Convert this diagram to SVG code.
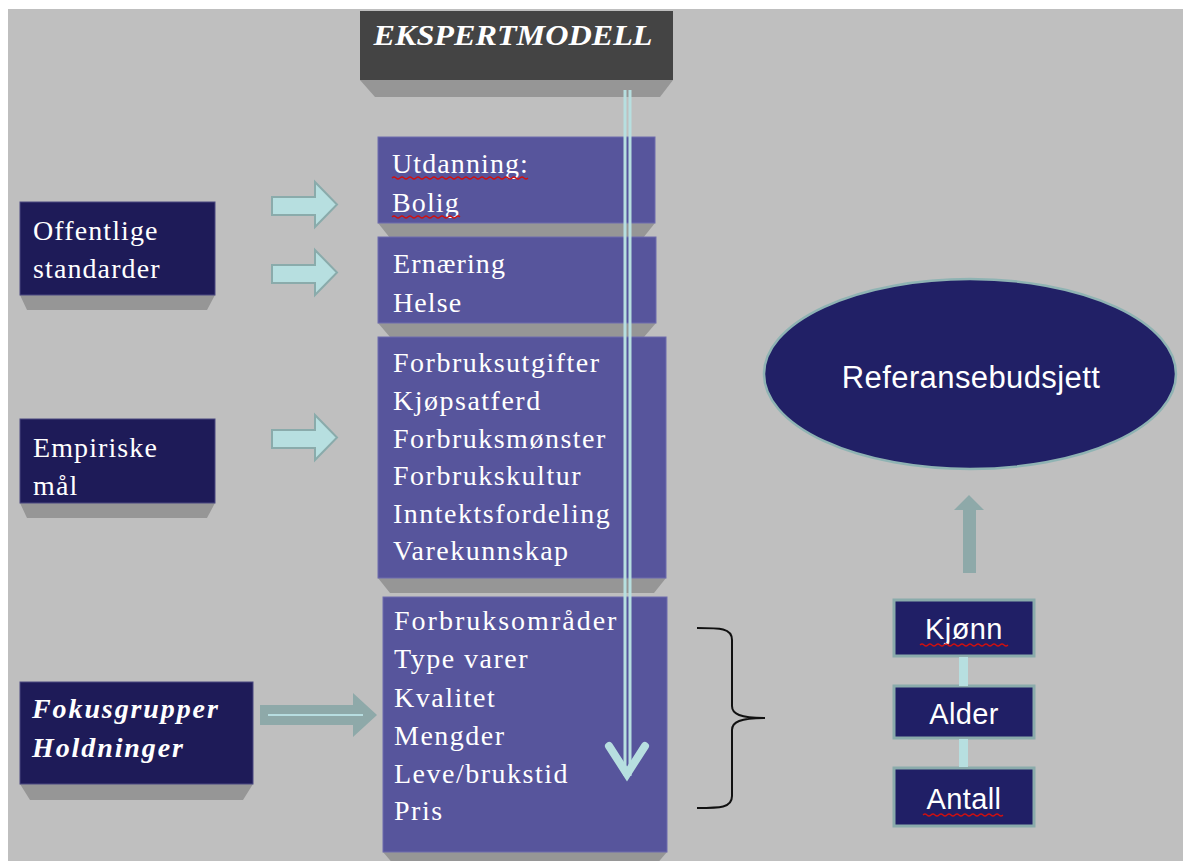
<svg xmlns="http://www.w3.org/2000/svg" width="1183" height="861" viewBox="0 0 1183 861">
<defs>
<style>
.bg{fill:#bfbfbf}
.shadow{fill:#969696}
.mid{fill:#57559c;stroke:#6e6cae;stroke-width:1}
.dark{fill:#1e1b58;stroke:#4a4880;stroke-width:1}
.small{fill:#201f66;stroke:#8aabab;stroke-width:3}
.serif{font-family:"Liberation Serif","Times New Roman",serif;font-size:28px;fill:#ffffff;letter-spacing:1.1px}
.wide{letter-spacing:1.5px}
.bi{font-family:"Liberation Serif","Times New Roman",serif;font-size:28px;font-weight:bold;font-style:italic;fill:#ffffff;letter-spacing:1.9px}
.sans{font-family:"Liberation Sans",Arial,sans-serif;font-size:29px;fill:#ffffff;text-anchor:middle;letter-spacing:0.4px}
.blk{fill:#b7dfe0;stroke:#8aabab;stroke-width:2}
.sq{fill:none;stroke:#d01010;stroke-width:1.2}
</style>
</defs>
<rect x="0" y="0" width="1183" height="861" fill="#ffffff"/>
<rect class="bg" x="8" y="9" width="1175" height="852"/>

<g id="ekspertmodell">
<polygon class="shadow" points="360,80 673,80 660,97 375,97"/>
<rect x="360" y="11" width="313" height="69" fill="#444444"/>
<text class="bi" x="513" y="45" text-anchor="middle" style="font-size:30px;letter-spacing:0" textLength="279" lengthAdjust="spacingAndGlyphs">EKSPERTMODELL</text>
</g>

<g id="box-utdanning">
<polygon class="shadow" points="378,223 655,223 643,238 390,238"/>
<rect class="mid" x="378" y="137" width="277" height="86"/>
<text class="serif" x="392" y="173">Utdanning:</text>
<text class="serif" x="392" y="212">Bolig</text>
<path class="sq" d="M392,178 q2,-2 4,0 t4,0 t4,0 t4,0 t4,0 t4,0 t4,0 t4,0 t4,0 t4,0 t4,0 t4,0 t4,0 t4,0 t4,0 t4,0 t4,0 t4,0 t4,0 t4,0 t4,0 t4,0 t4,0 t4,0 t4,0 t4,0 t4,0 t4,0 t4,0 t4,0 t4,0 t4,0 t4,0 t4,0"/>
<path class="sq" d="M392,217 q2,-2 4,0 t4,0 t4,0 t4,0 t4,0 t4,0 t4,0 t4,0 t4,0 t4,0 t4,0 t4,0 t4,0 t4,0 t4,0 t4,0 t4,0"/>
</g>

<g id="box-ernaering">
<polygon class="shadow" points="378,323 656,323 644,337 390,337"/>
<rect class="mid" x="378" y="237" width="278" height="86"/>
<text class="serif" x="393" y="273">Ernæring</text>
<text class="serif" x="393" y="312">Helse</text>
</g>

<g id="box-forbruk">
<polygon class="shadow" points="378,578 666,578 654,593 390,593"/>
<rect class="mid" x="378" y="337" width="288" height="241"/>
<text class="serif wide" x="393" y="372">Forbruksutgifter</text>
<text class="serif wide" x="393" y="410">Kjøpsatferd</text>
<text class="serif wide" x="393" y="448">Forbruksmønster</text>
<text class="serif wide" x="393" y="485">Forbrukskultur</text>
<text class="serif wide" x="393" y="523">Inntektsfordeling</text>
<text class="serif wide" x="393" y="560">Varekunnskap</text>
</g>

<g id="box-omraader">
<polygon class="shadow" points="383,852 667,852 655,866 395,866"/>
<rect class="mid" x="383" y="597" width="284" height="255"/>
<text class="serif wide" x="394" y="630" style="letter-spacing:2px">Forbruksområder</text>
<text class="serif wide" x="394" y="668">Type varer</text>
<text class="serif wide" x="394" y="707">Kvalitet</text>
<text class="serif wide" x="394" y="745">Mengder</text>
<text class="serif wide" x="394" y="783">Leve/brukstid</text>
<text class="serif wide" x="394" y="820">Pris</text>
</g>

<g id="offentlige">
<polygon class="shadow" points="20,295 215,295 207,310 27,310"/>
<rect class="dark" x="20" y="202" width="195" height="93"/>
<text class="serif" x="33" y="240">Offentlige</text>
<text class="serif" x="33" y="278">standarder</text>
</g>

<g id="empiriske">
<polygon class="shadow" points="20,503 215,503 207,518 27,518"/>
<rect class="dark" x="20" y="419" width="195" height="84"/>
<text class="serif" x="33" y="457">Empiriske</text>
<text class="serif" x="33" y="495">mål</text>
</g>

<g id="fokusgrupper">
<polygon class="shadow" points="20,784 253,784 243,800 30,800"/>
<rect class="dark" x="20" y="682" width="233" height="102"/>
<text class="bi" x="32" y="718">Fokusgrupper</text>
<text class="bi" x="32" y="757">Holdninger</text>
</g>

<g id="referansebudsjett">
<ellipse cx="970" cy="374" rx="206" ry="95" fill="#212066" stroke="#8fb3b3" stroke-width="2.5"/>
<text class="sans" x="971" y="388" style="font-size:31px">Referansebudsjett</text>
</g>

<g id="kjonn">
<rect class="small" x="894" y="600" width="140" height="56"/>
<text class="sans" x="964" y="639">Kjønn</text>
<path class="sq" d="M920,645 q2,-2 4,0 t4,0 t4,0 t4,0 t4,0 t4,0 t4,0 t4,0 t4,0 t4,0 t4,0 t4,0 t4,0 t4,0 t4,0 t4,0 t4,0 t4,0 t4,0 t4,0 t4,0 t4,0"/>
</g>
<g id="alder">
<rect class="small" x="894" y="686" width="140" height="52"/>
<text class="sans" x="964" y="724">Alder</text>
</g>
<g id="antall">
<rect class="small" x="894" y="768" width="140" height="58"/>
<text class="sans" x="964" y="809">Antall</text>
<path class="sq" d="M923,815 q2,-2 4,0 t4,0 t4,0 t4,0 t4,0 t4,0 t4,0 t4,0 t4,0 t4,0 t4,0 t4,0 t4,0 t4,0 t4,0 t4,0 t4,0 t4,0 t4,0 t4,0"/>
</g>

<g id="connectors">
<polygon class="blk" points="272,197 315,197 315,182 337,204.5 315,227 315,215 272,215"/>
<polygon class="blk" points="272,265 315,265 315,250 337,272.5 315,295 315,283 272,283"/>
<polygon class="blk" points="272,430 315,430 315,415 337,437.5 315,460 315,448 272,448"/>
<polygon points="260,705 353,705 353,693 377,715 353,737 353,725 260,725" fill="#8ea9a9"/>
<line x1="268" y1="715" x2="363" y2="715" stroke="#b7dde0" stroke-width="2"/>
<line x1="625" y1="90" x2="625" y2="776" stroke="#b7dfe0" stroke-width="3"/>
<line x1="630" y1="90" x2="630" y2="776" stroke="#b7dfe0" stroke-width="3"/>
<polyline points="609,746 627,774 645,746" fill="none" stroke="#b7dfe0" stroke-width="8" stroke-linecap="round" stroke-linejoin="miter"/>
<path d="M697,628 C720,628 732,628 732,640 L732,706 C732,714 740,718 765,718 C740,718 732,722 732,730 L732,796 C732,808 720,808 697,808" fill="none" stroke="#111111" stroke-width="2"/>
<rect x="959" y="657" width="9" height="29" fill="#b7dfe0"/>
<rect x="959" y="739" width="9" height="28" fill="#b7dfe0"/>
<polygon points="954,510 969,495 984,510 976,510 976,573 963,573 963,510" fill="#8ea9a9"/>
</g>
</svg>
